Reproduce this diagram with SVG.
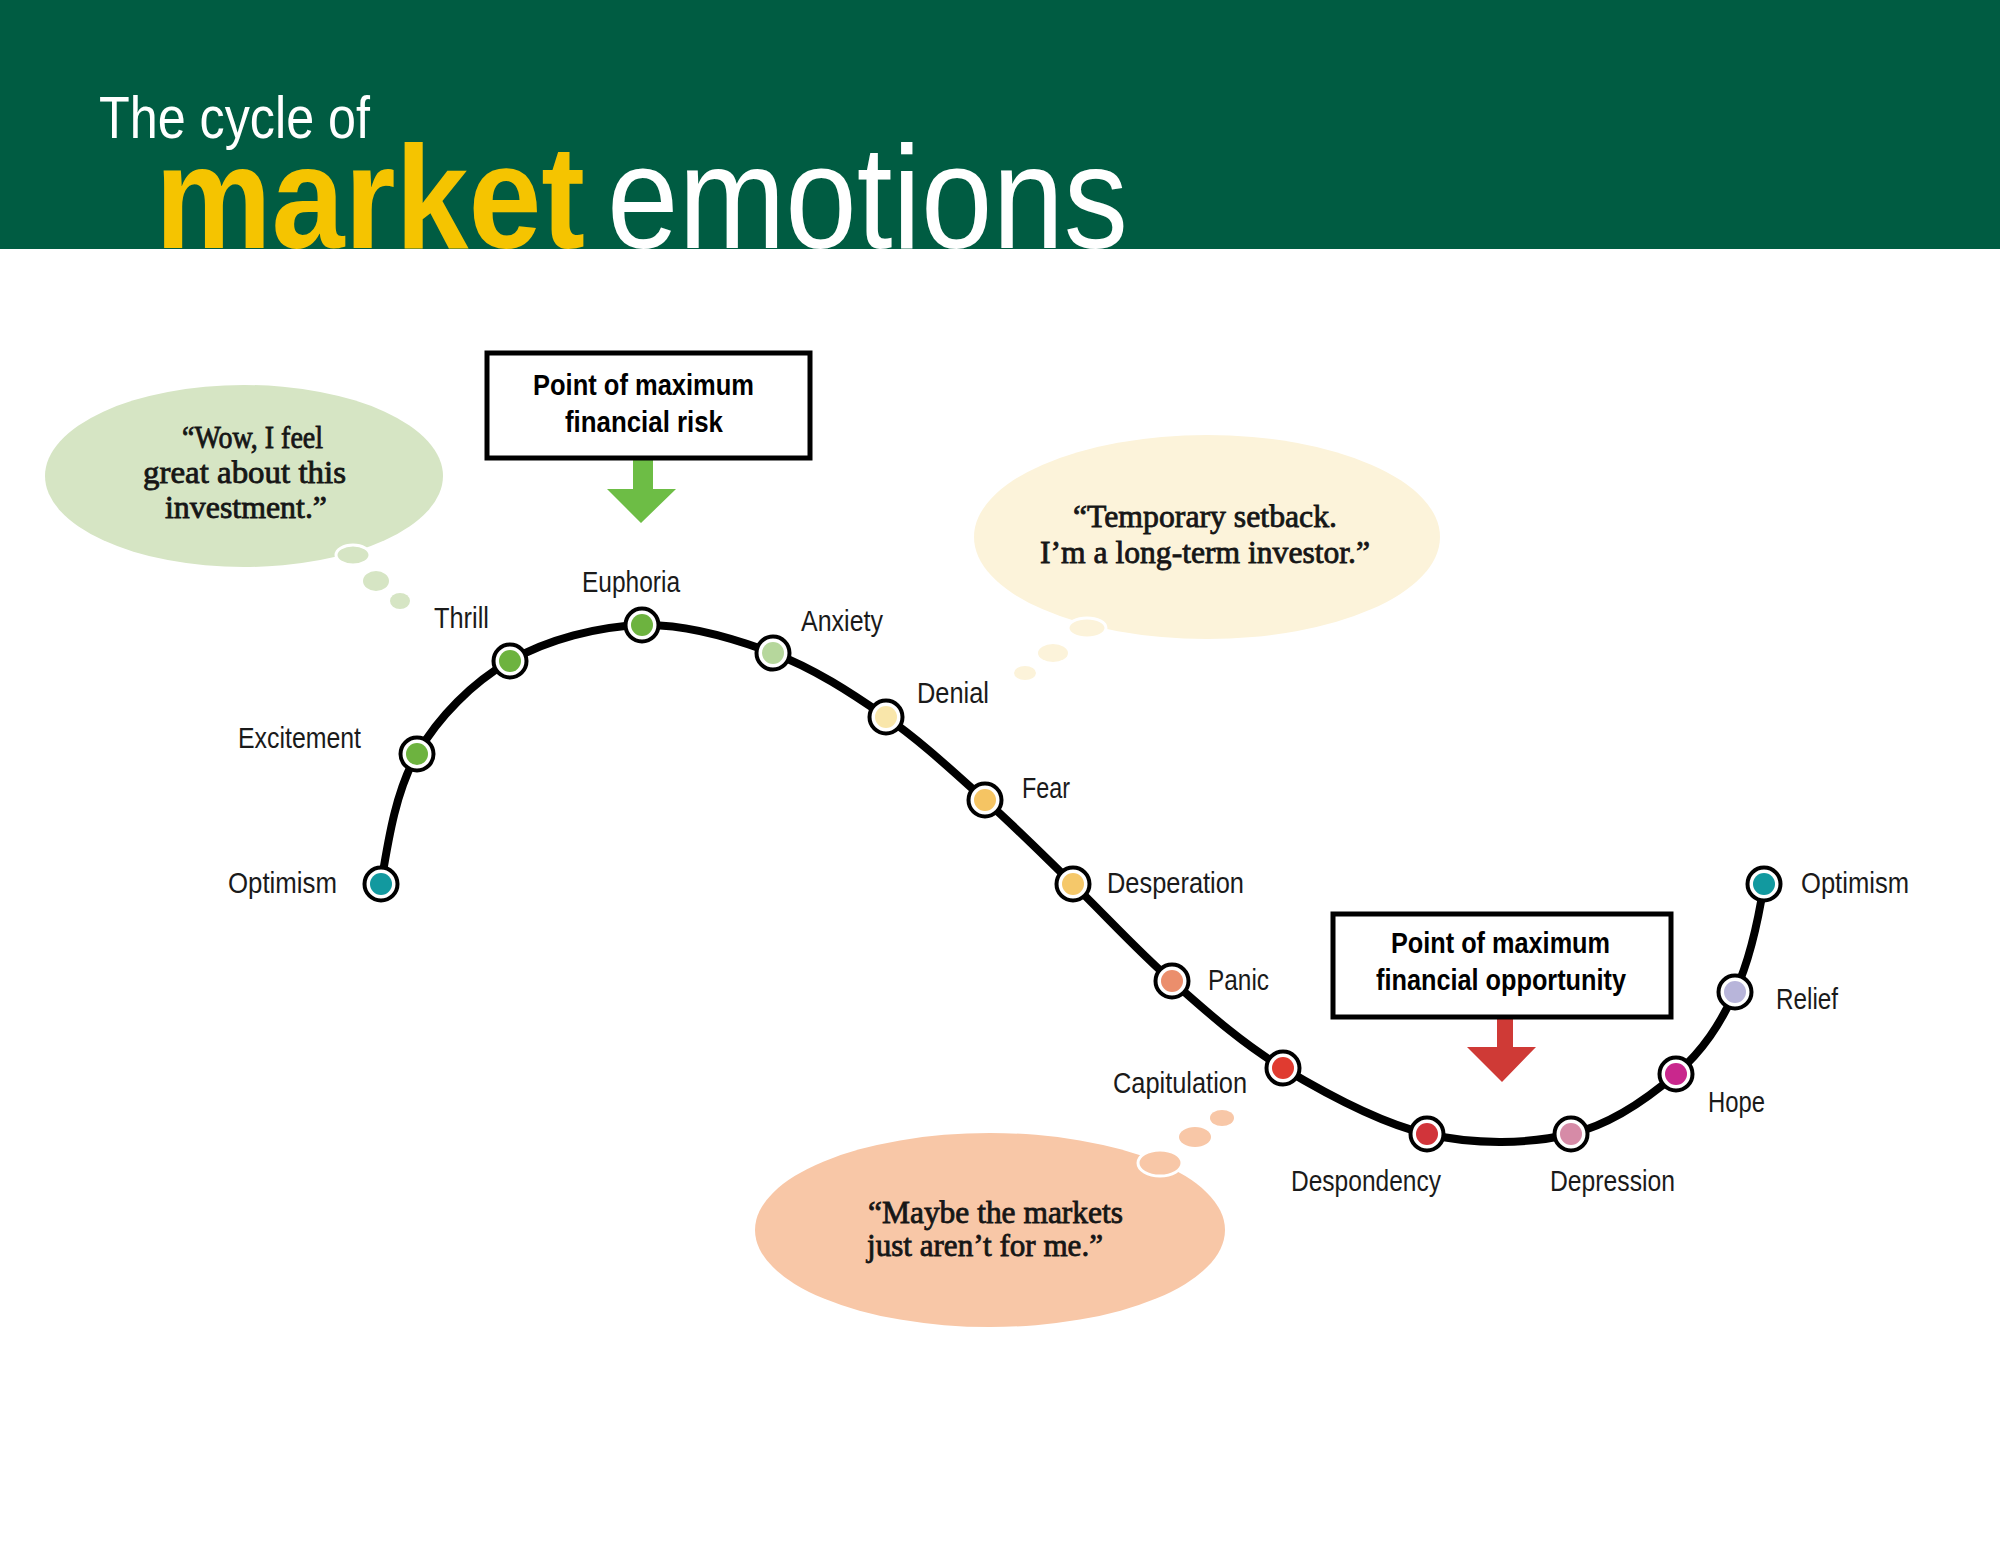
<svg xmlns="http://www.w3.org/2000/svg" width="2000" height="1545" viewBox="0 0 2000 1545">
<style>
.lbl{font-family:"Liberation Sans Narrow","Liberation Sans",Arial,sans-serif;font-size:30px;fill:#1a1a1a}
.box{fill:#fff;stroke:#000;stroke-width:5}
.boxt{font-family:"Liberation Sans Narrow","Liberation Sans",Arial,sans-serif;font-size:29px;font-weight:bold;fill:#000}
.quote{font-family:"Liberation Serif","Times New Roman",serif;font-size:31px;fill:#161616;stroke:#161616;stroke-width:0.8}
.ring{fill:#fff;stroke:#000;stroke-width:4}
.curve{fill:none;stroke:#000;stroke-width:8;stroke-linecap:round}
.ttl{font-family:"Liberation Sans Narrow","Liberation Sans",Arial,sans-serif}
</style>
<rect x="0" y="0" width="2000" height="1545" fill="#fff"/>
<g id="header">
<rect x="0" y="0" width="2000" height="249" fill="#005c42"/>
<text class="ttl" x="99" y="138" font-size="60" fill="#fff" textLength="271" lengthAdjust="spacingAndGlyphs">The cycle of</text>
<text class="ttl" x="155" y="248" font-size="146" font-weight="bold" fill="#f5c400" textLength="430" lengthAdjust="spacingAndGlyphs">market</text>
<text class="ttl" x="607" y="248" font-size="146" fill="#fff" textLength="521" lengthAdjust="spacingAndGlyphs">emotions</text>
</g>
<g id="bubble-wow">
<ellipse cx="244" cy="476" rx="199" ry="91" fill="#d6e5c4"/>
<ellipse cx="353" cy="555" rx="17" ry="10" fill="#d6e5c4" stroke="#fff" stroke-width="3"/>
<ellipse cx="376" cy="581" rx="13" ry="10" fill="#d6e5c4"/>
<ellipse cx="400" cy="601" rx="10" ry="8" fill="#d6e5c4"/>
<text class="quote" x="182" y="448" textLength="141" lengthAdjust="spacingAndGlyphs">“Wow, I feel</text>
<text class="quote" x="143" y="483" textLength="203" lengthAdjust="spacingAndGlyphs">great about this</text>
<text class="quote" x="165" y="518" textLength="162" lengthAdjust="spacingAndGlyphs">investment.”</text>
</g>
<g id="bubble-setback">
<ellipse cx="1207" cy="537" rx="233" ry="102" fill="#fcf3da"/>
<ellipse cx="1087" cy="628" rx="19" ry="10" fill="#fcf3da" stroke="#fff" stroke-width="3"/>
<ellipse cx="1053" cy="653" rx="15" ry="9" fill="#fcf3da"/>
<ellipse cx="1025" cy="673" rx="11" ry="7" fill="#fcf3da"/>
<text class="quote" x="1073" y="527" textLength="264" lengthAdjust="spacingAndGlyphs">“Temporary setback.</text>
<text class="quote" x="1040" y="563" textLength="330" lengthAdjust="spacingAndGlyphs">I’m a long-term investor.”</text>
</g>
<g id="bubble-maybe">
<ellipse cx="990" cy="1230" rx="235" ry="97" fill="#f8c7a7"/>
<ellipse cx="1160" cy="1163" rx="22" ry="13" fill="#f8c7a7" stroke="#fff" stroke-width="3"/>
<ellipse cx="1195" cy="1137" rx="16" ry="10" fill="#f8c7a7"/>
<ellipse cx="1222" cy="1118" rx="12" ry="8" fill="#f8c7a7"/>
<text class="quote" x="868" y="1223" textLength="255" lengthAdjust="spacingAndGlyphs">“Maybe the markets</text>
<text class="quote" x="867" y="1256" textLength="236" lengthAdjust="spacingAndGlyphs">just aren’t for me.”</text>
</g>
<g id="connectors">
<path class="curve" d="M381,884 C388,841.7 395.5,791.2 417,754 C438.5,716.8 472.5,682.5 510,661 C547.5,639.5 598.2,626.3 642,625 C685.8,623.7 732.3,637.7 773,653 C813.7,668.3 850.7,692.5 886,717 C921.3,741.5 953.8,772.2 985,800 C1016.2,827.8 1041.8,853.8 1073,884 C1104.2,914.2 1137,950.3 1172,981 C1207,1011.7 1240.5,1042.5 1283,1068 C1325.5,1093.5 1379,1123 1427,1134 C1475,1145 1529.5,1144 1571,1134 C1612.5,1124 1648.7,1097.7 1676,1074 C1703.3,1050.3 1720.3,1023.7 1735,992 C1749.7,960.3 1758.2,921 1764,884"/>
<polygon points="633,459 653,459 653,489 676,489 641,523 607,489 633,489" fill="#6dbd45"/>
<polygon points="1497,1019 1513,1019 1513,1047 1536,1047 1502,1082 1467,1047 1497,1047" fill="#cf3a36"/>
</g>
<g id="box-risk">
<rect class="box" x="487" y="353" width="323" height="105"/>
<text class="boxt" x="533" y="395" textLength="221" lengthAdjust="spacingAndGlyphs">Point of maximum</text>
<text class="boxt" x="565" y="432" textLength="158" lengthAdjust="spacingAndGlyphs">financial risk</text>
</g>
<g id="box-opportunity">
<rect class="box" x="1333" y="914" width="338" height="103"/>
<text class="boxt" x="1391" y="953" textLength="219" lengthAdjust="spacingAndGlyphs">Point of maximum</text>
<text class="boxt" x="1376" y="990" textLength="250" lengthAdjust="spacingAndGlyphs">financial opportunity</text>
</g>
<g id="node-optimism-1"><circle class="ring" cx="381" cy="884" r="16.5"/><circle cx="381" cy="884" r="11" fill="#12999f"/><text class="lbl" x="228" y="893" textLength="109" lengthAdjust="spacingAndGlyphs">Optimism</text></g>
<g id="node-excitement"><circle class="ring" cx="417" cy="754" r="16.5"/><circle cx="417" cy="754" r="11" fill="#6db33f"/><text class="lbl" x="238" y="748" textLength="123" lengthAdjust="spacingAndGlyphs">Excitement</text></g>
<g id="node-thrill"><circle class="ring" cx="510" cy="661" r="16.5"/><circle cx="510" cy="661" r="11" fill="#6db33f"/><text class="lbl" x="434" y="628" textLength="55" lengthAdjust="spacingAndGlyphs">Thrill</text></g>
<g id="node-euphoria"><circle class="ring" cx="642" cy="625" r="16.5"/><circle cx="642" cy="625" r="11" fill="#6db33f"/><text class="lbl" x="582" y="592" textLength="98" lengthAdjust="spacingAndGlyphs">Euphoria</text></g>
<g id="node-anxiety"><circle class="ring" cx="773" cy="653" r="16.5"/><circle cx="773" cy="653" r="11" fill="#b6d79c"/><text class="lbl" x="801" y="631" textLength="82" lengthAdjust="spacingAndGlyphs">Anxiety</text></g>
<g id="node-denial"><circle class="ring" cx="886" cy="717" r="16.5"/><circle cx="886" cy="717" r="11" fill="#f9e6aa"/><text class="lbl" x="917" y="703" textLength="72" lengthAdjust="spacingAndGlyphs">Denial</text></g>
<g id="node-fear"><circle class="ring" cx="985" cy="800" r="16.5"/><circle cx="985" cy="800" r="11" fill="#f5c463"/><text class="lbl" x="1022" y="798" textLength="48" lengthAdjust="spacingAndGlyphs">Fear</text></g>
<g id="node-desperation"><circle class="ring" cx="1073" cy="884" r="16.5"/><circle cx="1073" cy="884" r="11" fill="#f5c86a"/><text class="lbl" x="1107" y="893" textLength="137" lengthAdjust="spacingAndGlyphs">Desperation</text></g>
<g id="node-panic"><circle class="ring" cx="1172" cy="981" r="16.5"/><circle cx="1172" cy="981" r="11" fill="#eb8e6c"/><text class="lbl" x="1208" y="990" textLength="61" lengthAdjust="spacingAndGlyphs">Panic</text></g>
<g id="node-capitulation"><circle class="ring" cx="1283" cy="1068" r="16.5"/><circle cx="1283" cy="1068" r="11" fill="#e03b30"/><text class="lbl" x="1113" y="1093" textLength="134" lengthAdjust="spacingAndGlyphs">Capitulation</text></g>
<g id="node-despondency"><circle class="ring" cx="1427" cy="1134" r="16.5"/><circle cx="1427" cy="1134" r="11" fill="#d1343a"/><text class="lbl" x="1291" y="1191" textLength="150" lengthAdjust="spacingAndGlyphs">Despondency</text></g>
<g id="node-depression"><circle class="ring" cx="1571" cy="1134" r="16.5"/><circle cx="1571" cy="1134" r="11" fill="#d68ba7"/><text class="lbl" x="1550" y="1191" textLength="125" lengthAdjust="spacingAndGlyphs">Depression</text></g>
<g id="node-hope"><circle class="ring" cx="1676" cy="1074" r="16.5"/><circle cx="1676" cy="1074" r="11" fill="#c9278d"/><text class="lbl" x="1708" y="1112" textLength="57" lengthAdjust="spacingAndGlyphs">Hope</text></g>
<g id="node-relief"><circle class="ring" cx="1735" cy="992" r="16.5"/><circle cx="1735" cy="992" r="11" fill="#b8b5da"/><text class="lbl" x="1776" y="1009" textLength="62" lengthAdjust="spacingAndGlyphs">Relief</text></g>
<g id="node-optimism-2"><circle class="ring" cx="1764" cy="884" r="16.5"/><circle cx="1764" cy="884" r="11" fill="#12999f"/><text class="lbl" x="1801" y="893" textLength="108" lengthAdjust="spacingAndGlyphs">Optimism</text></g>
</svg>
